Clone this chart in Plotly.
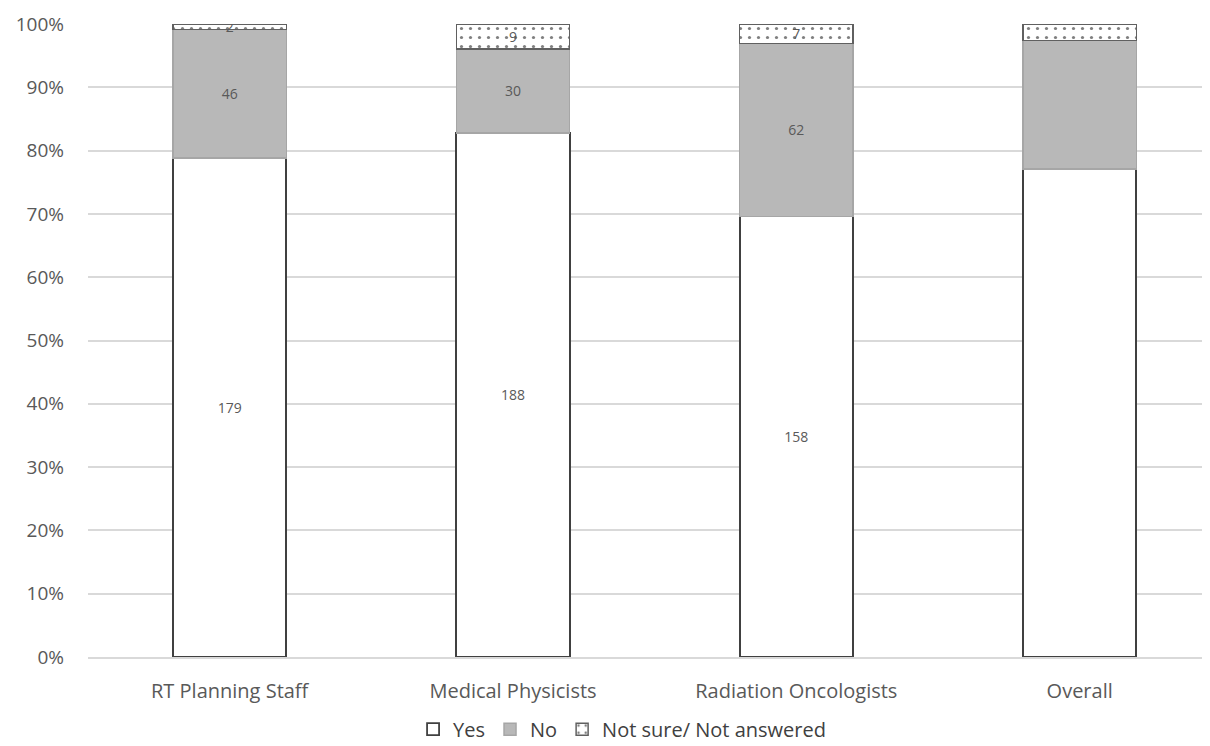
import plotly.graph_objects as go

categories = ["RT Planning Staff", "Medical Physicists", "Radiation Oncologists", "Overall"]
yes_counts = [179, 188, 158, 525]
no_counts = [46, 30, 62, 138]
unsure_counts = [2, 9, 7, 18]
yes_labels = ["179", "188", "158", ""]
no_labels = ["46", "30", "62", ""]
unsure_labels = ["2", "9", "7", ""]

font_family = "'Open Sans', Lato, sans-serif"
label_font = dict(family=font_family, size=14, color="#595959")
bar_width = 0.4

fig = go.Figure()
fig.add_trace(go.Bar(
    x=categories, y=yes_counts, name="Yes", width=bar_width,
    marker=dict(color="white", line=dict(color="#404040", width=1.8)),
    text=yes_labels, textposition="inside", insidetextanchor="middle", textangle=0,
    textfont=label_font, constraintext="none",
))
fig.add_trace(go.Bar(
    x=categories, y=no_counts, name="No", width=bar_width,
    marker=dict(color="#b8b8b8", line=dict(color="#a6a6a6", width=1.5)),
    text=no_labels, textposition="inside", insidetextanchor="middle", textangle=0,
    textfont=label_font, constraintext="none",
))
fig.add_trace(go.Bar(
    x=categories, y=unsure_counts, name="Not sure/ Not answered", width=bar_width,
    marker=dict(color="white", line=dict(color="#606060", width=1.5),
                pattern=dict(shape=".", fgcolor="black", bgcolor="white", size=9, solidity=0.1)),
    text=unsure_labels, textposition="inside", insidetextanchor="middle", textangle=0,
    textfont=label_font, constraintext="none",
))

fig.update_layout(
    barmode="stack", barnorm="percent",
    width=1202, height=738,
    margin=dict(l=80, r=0, t=16, b=89, autoexpand=False),
    plot_bgcolor="white", paper_bgcolor="white",
    font=dict(family=font_family, color="#595959", size=18),
    uniformtext=dict(minsize=10, mode="show"),
    legend=dict(orientation="h", x=0.476, xanchor="center", y=-0.114, yanchor="middle",
                font=dict(size=20, color="#404040"), traceorder="normal",
                itemwidth=30),
    showlegend=True,
)
fig.update_yaxes(range=[0, 100], dtick=10, ticksuffix="%", showgrid=True,
                 gridcolor="#d9d9d9", gridwidth=1.5, zeroline=False,
                 tickfont=dict(size=19, color="#595959"), ticks="",
                 ticklabelstandoff=23, showline=False, automargin=False)
fig.update_xaxes(range=[-0.5, 3.46], showline=True, linecolor="#d9d9d9", linewidth=1.5,
                 tickfont=dict(size=20, color="#595959"), ticks="",
                 ticklabelstandoff=15, automargin=False)

fig.write_html("out.html")
